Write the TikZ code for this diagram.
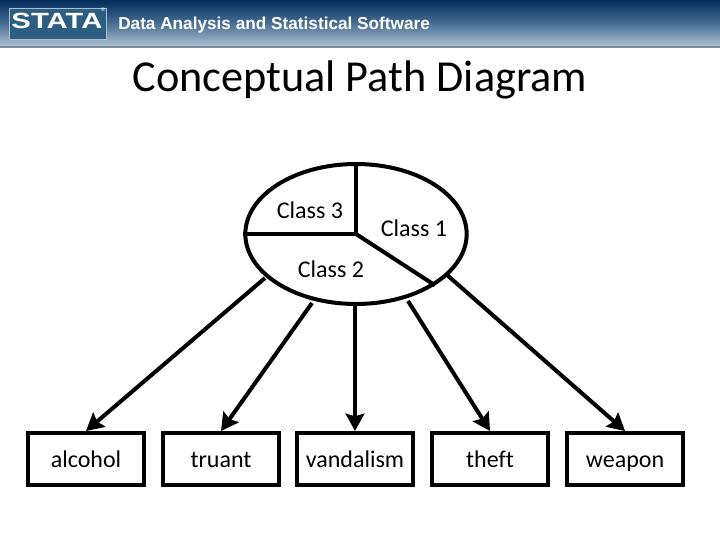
\documentclass[tikz,border=0pt]{standalone}
\usepackage{fontspec}
\setmainfont[Ligatures=NoCommon]{Carlito}
\newfontfamily\headfont{Liberation Sans}
\usetikzlibrary{shapes.geometric,arrows.meta}
\definecolor{headtop}{RGB}{4,44,92}
\definecolor{headmid}{RGB}{70,110,146}
\definecolor{headbot}{RGB}{172,190,205}
\definecolor{headline}{RGB}{120,140,158}
\definecolor{logoblue}{RGB}{44,94,130}
\tikzset{
  varbox/.style = {draw, line width = 3pt, minimum width = 87pt, minimum height = 39pt, inner sep = 0pt, text height = 14pt, text depth = 2pt, font = \fontsize{18}{20}\selectfont},
  classlabel/.style = {anchor = base, inner sep = 0pt, font = \fontsize{18}{20}\selectfont},
  path arrow/.style = {-{Stealth[length = 13pt, width = 14pt, inset = 2pt]}, line width = 3pt},
  divider/.style = {line width = 3pt}
}
\begin{document}
\begin{tikzpicture}[x = 0.75pt, y = -0.75pt]
        \useasboundingbox (0,0) rectangle (720,540);
        \fill [white] (0,0) rectangle (720,540);

        % header band
        \shade [top color = headtop, bottom color = headbot, middle color = headmid] (0,0) rectangle (720,46);
        \fill [headline] (0,46) rectangle (720,48);
        \node (logo) [fill = logoblue, draw = headbot, line width = 1pt, minimum width = 73pt, minimum height = 23pt, inner sep = 0pt] at (58,24) {};
        \node (logoname) [inner sep = 0pt, text = white, font = \headfont\bfseries\fontsize{16.5}{17}\selectfont] at (57,21) {\scalebox{1.33}[1]{STATA}};
        \node (regmark) [inner sep = 0pt, text = white, font = \headfont\fontsize{4}{4}\selectfont] at (103,10) {®};
        \node (slogan) [anchor = west, inner sep = 0pt, text = white, font = \headfont\bfseries\fontsize{12.9}{15}\selectfont] at (118,25) {Data Analysis and Statistical Software};

        \node (title) [inner sep = 0pt, font = \fontsize{33.2}{36}\selectfont] at (360,80) {Conceptual Path Diagram};

        % latent class
        \node (class) [draw, ellipse, line width = 3pt, minimum width = 166pt, minimum height = 105pt, inner sep = 0pt] at (356,234) {};
        \coordinate (hub) at (356,234);
        \draw [divider] (hub) -- (class.north);
        \draw [divider] (hub) -- (class.west);
        \draw [divider] (hub) -- (class.-33.5);
        \node (class3) [classlabel] at (310,218) {Class 3};
        \node (class1) [classlabel] at (414,236) {Class 1};
        \node (class2) [classlabel] at (331,277) {Class 2};

        % observed items
        \node (alcohol) [varbox] at (86,459) {alcohol};
        \node (truant) [varbox] at (221,459) {truant};
        \node (vandalism) [varbox] at (355,459) {vandalism};
        \node (theft) [varbox] at (490,459) {theft};
        \node (weapon) [varbox] at (625,459) {weapon};

        \coordinate (out1) at (265,278);
        \coordinate (out2) at (312,303);
        \coordinate (out3) at (355,306);
        \coordinate (out4) at (408,301);
        \coordinate (out5) at (447,275);
        \draw [path arrow] (out1) -- (alcohol.north);
        \draw [path arrow] (out2) -- (truant.north);
        \draw [path arrow] (out3) -- (vandalism.north);
        \draw [path arrow] (out4) -- (theft.north);
        \draw [path arrow] (out5) -- (weapon.north);
    \end{tikzpicture}
\end{document}
